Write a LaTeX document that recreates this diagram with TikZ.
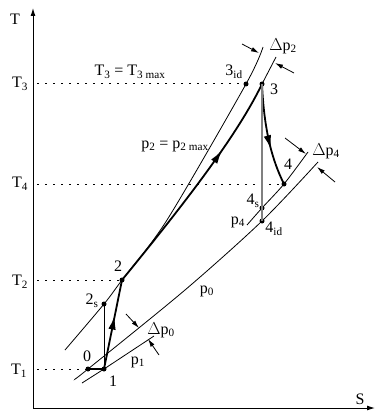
\documentclass[tikz,border=0pt]{standalone}
\usepackage{fontspec}
\setmainfont{Liberation Serif}
\usetikzlibrary{arrows.meta,decorations.markings}

\begin{document}
\begin{tikzpicture}[x=1pt, y=-1pt, >={Latex[length=8pt,width=5pt]},
  font=\fontsize{16}{18}\selectfont,
  iso/.style={line width=0.8pt},
  proc/.style={line width=1.8pt},
  lvl/.style={line width=1pt, dash pattern=on 1.6pt off 6.4pt},
  pt/.style={circle, fill, inner sep=0pt, minimum size=5pt},
  lbl/.style={inner sep=0pt},
  dp/.style={line width=0.8pt, -{Latex[length=8pt,width=4.5pt]}},
  midarrow/.style={postaction={decorate, decoration={markings,
      mark=at position #1 with {\arrow{Latex[length=14pt,width=7.5pt]}}}}}]
\useasboundingbox (0,0) rectangle (375,414);

\coordinate (O) at (33,408);
\coordinate (Ttop) at (33,8);
\coordinate (Send) at (375,408);
\draw[line width=1pt, <->] (Ttop) |- (Send);
\node[lbl] (lT) at (15,19) {T};
\node[lbl] (lS) at (360,399) {S};

\node[pt] (n0) at (88,369) {};
\node[pt] (n1) at (104,369) {};
\node[pt] (n2s) at (104,304) {};
\node[pt] (n2) at (122,280) {};
\node[pt] (n3id) at (246,84) {};
\node[pt] (n3) at (262,84) {};
\node[pt] (n4) at (284,184) {};
\node[pt] (n4s) at (262,208) {};
\node[pt] (n4id) at (262,221) {};

\draw[lvl] ([xshift=4pt]O |- n3id) -- (n3id);
\draw[lvl] ([xshift=4pt]O |- n4) -- (n4);
\draw[lvl] ([xshift=4pt]O |- n2) -- (n2);
\draw[lvl] ([xshift=4pt]O |- n0) -- (n0);
\node[lbl] (lT3) at (20,84) {T\textsubscript{3}};
\node[lbl] (lT4) at (20,184) {T\textsubscript{4}};
\node[lbl] (lT2) at (20,282) {T\textsubscript{2}};
\node[lbl] (lT1) at (19,371) {T\textsubscript{1}};

\coordinate (p2lo) at (65,350);
\coordinate (p2hi) at (263,47);
\coordinate (p2up) at (276,57);
\draw[iso] plot[smooth, tension=0.5] coordinates {(p2lo) (n2s.center) (n2.center) (167,220) (n3id.center) (p2hi)};
\draw[iso] (n3.center) -- (p2up);
\coordinate (p4lo) at (247,225);
\coordinate (p4hi) at (308,152);
\draw[iso] plot[smooth, tension=0.5] coordinates {(p4lo) (n4s.center) (n4.center) (p4hi)};
\coordinate (p0lo) at (75,379);
\coordinate (p0hi) at (318,162);
\draw[iso] plot[smooth, tension=0.5] coordinates {(p0lo) (n0.center) (185,290) (n4id.center) (p0hi)};
\coordinate (p1lo) at (82,383);
\coordinate (p1hi) at (154,336);
\draw[iso] (p1lo) -- (n1.center) -- (p1hi);

\draw[proc] (n0.center) -- (n1.center);
\draw[proc, midarrow=0.6] (n1.center) -- (n2.center);
\draw[iso] (n2s.center) -- (n1.center);
\draw[proc, midarrow=0.68] (n2.center) .. controls (175,215) and (235,140) .. (n3.center);
\draw[proc, midarrow=0.64] (n3.center) .. controls (264,130) and (272,160) .. (n4.center);
\draw[gray, line width=1.2pt] (n3.center) -- (n4id.center);

\coordinate (d2a) at (242,44);
\coordinate (d2b) at (259,53);
\coordinate (d2c) at (294,73);
\coordinate (d2d) at (275,63);
\draw[dp] (d2a) -- (d2b);
\draw[dp] (d2c) -- (d2d);
\coordinate (d4a) at (285,138);
\coordinate (d4b) at (306,154);
\coordinate (d4c) at (335,182);
\coordinate (d4d) at (317,167);
\draw[dp] (d4a) -- (d4b);
\draw[dp] (d4c) -- (d4d);
\coordinate (d0a) at (126,314);
\coordinate (d0b) at (139,328);
\coordinate (d0c) at (159,355);
\coordinate (d0d) at (148,339);
\draw[dp] (d0a) -- (d0b);
\draw[dp] (d0c) -- (d0d);

\node[lbl] (lT3max) at (130,72) {T\textsubscript{3} = T\textsubscript{3 max}};
\node[lbl] (lp2) at (175,146) {p\textsubscript{2} = p\textsubscript{2 max}};
\node[lbl] (ldp2) at (283,46) {$\Delta$p\textsubscript{2}};
\node[lbl] (ldp4) at (326,151) {$\Delta$p\textsubscript{4}};
\node[lbl] (ldp0) at (161,330) {$\Delta$p\textsubscript{0}};
\node[lbl] (l3id) at (234,72) {3\textsubscript{id}};
\node[lbl] (l3) at (274,89) {3};
\node[lbl] (l4) at (288,164) {4};
\node[lbl] (l4s) at (253,201) {4\textsubscript{s}};
\node[lbl] (lp4) at (238,222) {p\textsubscript{4}};
\node[lbl] (l4id) at (274,229) {4\textsubscript{id}};
\node[lbl] (lp0) at (207,291) {p\textsubscript{0}};
\node[lbl] (l2) at (118,266) {2};
\node[lbl] (l2s) at (92,301) {2\textsubscript{s}};
\node[lbl] (lp1) at (138,362) {p\textsubscript{1}};
\node[lbl] (l0) at (87,356) {0};
\node[lbl] (l1) at (113,381) {1};
\end{tikzpicture}
\end{document}
